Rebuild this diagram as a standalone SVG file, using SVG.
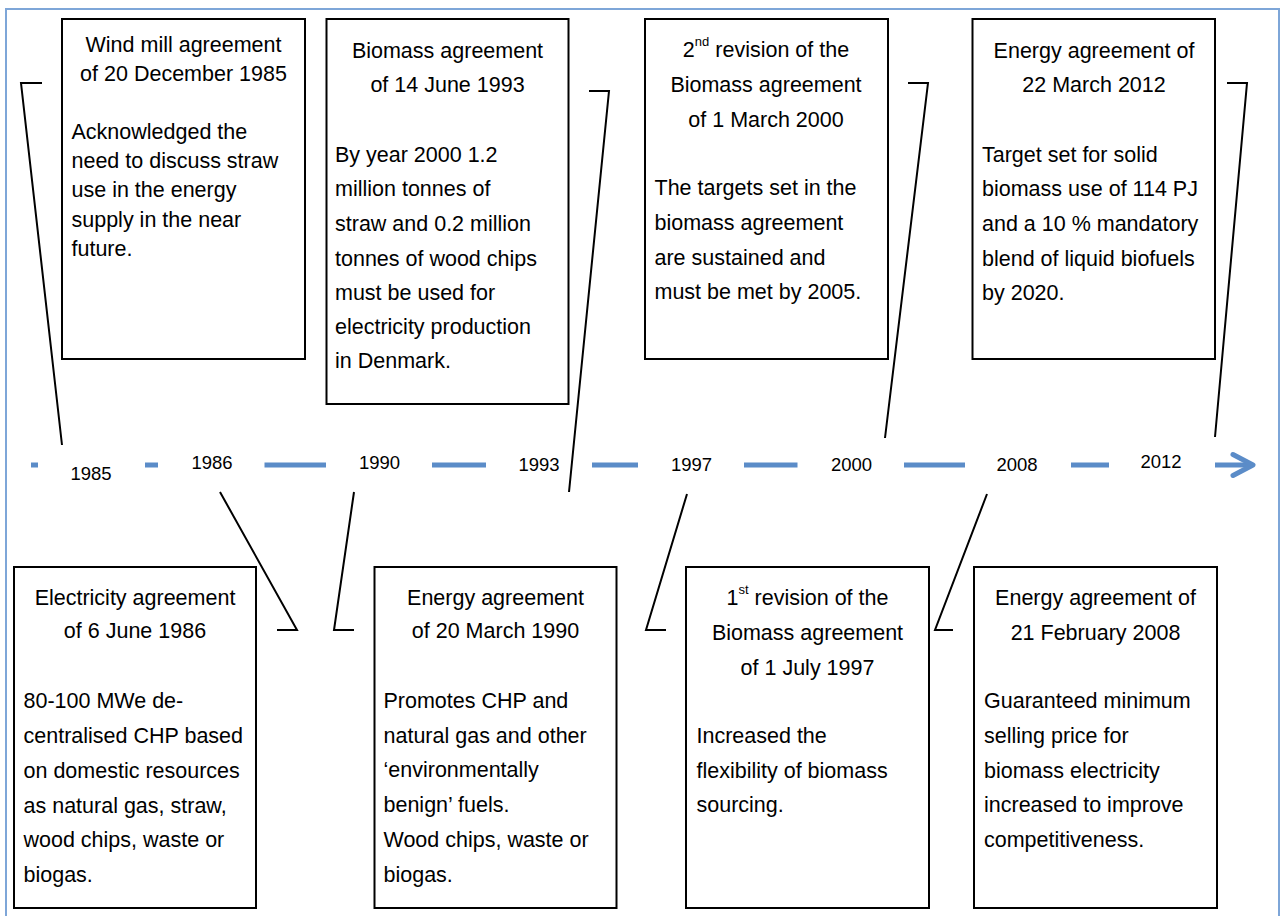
<svg xmlns="http://www.w3.org/2000/svg" width="1285" height="916" viewBox="0 0 1285 916">
<style>
.box{fill:#fff;stroke:#000;stroke-width:2}
.t{font-family:"Liberation Sans",Arial,sans-serif;font-size:21.5px;fill:#000}
.c{text-anchor:middle}
.yr{font-family:"Liberation Sans",Arial,sans-serif;font-size:18.5px;fill:#000;text-anchor:middle}
.sup{font-size:13px}
.conn{fill:none;stroke:#000;stroke-width:2;stroke-linejoin:miter}
.dash{stroke:#5B8CC8;stroke-width:5}
</style>
<rect x="6" y="9" width="1273" height="912" fill="#fff" stroke="#7EA6D8" stroke-width="2"/>

<g id="timeline">
<line class="dash" x1="31" y1="465" x2="38" y2="465"/>
<line class="dash" x1="145" y1="465" x2="158" y2="465"/>
<line class="dash" x1="264.5" y1="465" x2="326" y2="465"/>
<line class="dash" x1="432" y1="465" x2="486" y2="465"/>
<line class="dash" x1="592" y1="465" x2="638" y2="465"/>
<line class="dash" x1="744" y1="465" x2="797.5" y2="465"/>
<line class="dash" x1="904" y1="465" x2="965" y2="465"/>
<line class="dash" x1="1071" y1="465" x2="1109" y2="465"/>
<line class="dash" x1="1215" y1="465" x2="1251" y2="465"/>
<polyline points="1233,454.5 1253,465 1233,475.5" fill="none" stroke="#5B8CC8" stroke-width="5" stroke-linecap="round" stroke-linejoin="round"/>
<text class="yr" x="91" y="480">1985</text>
<text class="yr" x="212" y="469">1986</text>
<text class="yr" x="379.5" y="469">1990</text>
<text class="yr" x="539" y="471">1993</text>
<text class="yr" x="691.5" y="471">1997</text>
<text class="yr" x="851.5" y="471">2000</text>
<text class="yr" x="1017" y="471">2008</text>
<text class="yr" x="1161" y="468">2012</text>
</g>

<g id="connectors">
<polyline class="conn" points="42,83 21,83 62,445"/>
<polyline class="conn" points="589,91 609,91 569,492"/>
<polyline class="conn" points="908,83 928,83 885,438"/>
<polyline class="conn" points="1227,83 1247,83 1215,437"/>
<polyline class="conn" points="220,492 297,630 277,630"/>
<polyline class="conn" points="354,492 334,630 354,630"/>
<polyline class="conn" points="687,494 646,630 666,630"/>
<polyline class="conn" points="987,494 935,630 953,630"/>
</g>

<g id="node-1985">
<rect class="box" x="62" y="19" width="243" height="340"/>
<text class="t c" x="183.5" y="52">Wind mill agreement</text>
<text class="t c" x="183.5" y="81">of 20 December 1985</text>
<text class="t" x="71.5" y="139">Acknowledged the</text>
<text class="t" x="71.5" y="168">need to discuss straw</text>
<text class="t" x="71.5" y="197">use in the energy</text>
<text class="t" x="71.5" y="227">supply in the near</text>
<text class="t" x="71.5" y="256">future.</text>
</g>

<g id="node-1993">
<rect class="box" x="326.5" y="19" width="242" height="385"/>
<text class="t c" x="447.5" y="58">Biomass agreement</text>
<text class="t c" x="447.5" y="92">of 14 June 1993</text>
<text class="t" x="335" y="162">By year 2000 1.2</text>
<text class="t" x="335" y="196">million tonnes of</text>
<text class="t" x="335" y="231">straw and 0.2 million</text>
<text class="t" x="335" y="266">tonnes of wood chips</text>
<text class="t" x="335" y="300">must be used for</text>
<text class="t" x="335" y="334">electricity production</text>
<text class="t" x="335" y="368">in Denmark.</text>
</g>

<g id="node-2000">
<rect class="box" x="645" y="19" width="243" height="340"/>
<text class="t c" x="766" y="57">2<tspan class="sup" dy="-11">nd</tspan><tspan dy="11"> revision of the</tspan></text>
<text class="t c" x="766" y="92">Biomass agreement</text>
<text class="t c" x="766" y="127">of 1 March 2000</text>
<text class="t" x="654.5" y="195">The targets set in the</text>
<text class="t" x="654.5" y="230">biomass agreement</text>
<text class="t" x="654.5" y="265">are sustained and</text>
<text class="t" x="654.5" y="299">must be met by 2005.</text>
</g>

<g id="node-2012">
<rect class="box" x="972.5" y="19" width="242.5" height="340"/>
<text class="t c" x="1094" y="58">Energy agreement of</text>
<text class="t c" x="1094" y="92">22 March 2012</text>
<text class="t" x="982" y="162">Target set for solid</text>
<text class="t" x="982" y="196">biomass use of 114 PJ</text>
<text class="t" x="982" y="231">and a 10 % mandatory</text>
<text class="t" x="982" y="266">blend of liquid biofuels</text>
<text class="t" x="982" y="300">by 2020.</text>
</g>

<g id="node-1986">
<rect class="box" x="14" y="567" width="242" height="341"/>
<text class="t c" x="135" y="605">Electricity agreement</text>
<text class="t c" x="135" y="638">of 6 June 1986</text>
<text class="t" x="23.5" y="708">80-100 MWe de-</text>
<text class="t" x="23.5" y="743">centralised CHP based</text>
<text class="t" x="23.5" y="778">on domestic resources</text>
<text class="t" x="23.5" y="813">as natural gas, straw,</text>
<text class="t" x="23.5" y="847">wood chips, waste or</text>
<text class="t" x="23.5" y="882">biogas.</text>
</g>

<g id="node-1990">
<rect class="box" x="374.5" y="567" width="242" height="341"/>
<text class="t c" x="495.5" y="605">Energy agreement</text>
<text class="t c" x="495.5" y="638">of 20 March 1990</text>
<text class="t" x="383.5" y="708">Promotes CHP and</text>
<text class="t" x="383.5" y="743">natural gas and other</text>
<text class="t" x="383.5" y="777">‘environmentally</text>
<text class="t" x="383.5" y="812">benign’ fuels.</text>
<text class="t" x="383.5" y="847">Wood chips, waste or</text>
<text class="t" x="383.5" y="882">biogas.</text>
</g>

<g id="node-1997">
<rect class="box" x="686" y="567" width="243" height="341"/>
<text class="t c" x="807.5" y="605">1<tspan class="sup" dy="-11">st</tspan><tspan dy="11"> revision of the</tspan></text>
<text class="t c" x="807.5" y="640">Biomass agreement</text>
<text class="t c" x="807.5" y="675">of 1 July 1997</text>
<text class="t" x="696.5" y="743">Increased the</text>
<text class="t" x="696.5" y="778">flexibility of biomass</text>
<text class="t" x="696.5" y="812">sourcing.</text>
</g>

<g id="node-2008">
<rect class="box" x="974" y="567" width="243" height="341"/>
<text class="t c" x="1095.5" y="605">Energy agreement of</text>
<text class="t c" x="1095.5" y="640">21 February 2008</text>
<text class="t" x="984" y="708">Guaranteed minimum</text>
<text class="t" x="984" y="743">selling price for</text>
<text class="t" x="984" y="778">biomass electricity</text>
<text class="t" x="984" y="812">increased to improve</text>
<text class="t" x="984" y="847">competitiveness.</text>
</g>
</svg>
